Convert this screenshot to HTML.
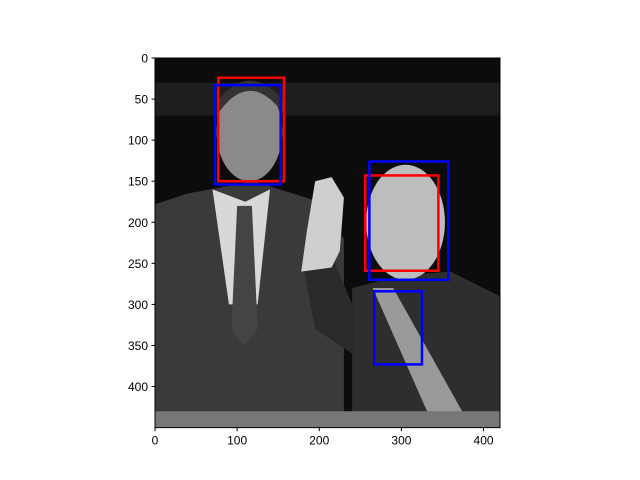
<!DOCTYPE html>
<html><head><meta charset="utf-8"><style>
body{margin:0;background:#fff;}
svg{display:block;font-family:"Liberation Sans","DejaVu Sans",sans-serif;}
</style></head><body>
<svg id="chart" width="640" height="480" xmlns="http://www.w3.org/2000/svg">
<g id="photo"></g>
<g id="boxes"></g>
<g id="axes"></g>
</svg>
<script>
const xTicks=[0,100,200,300,400];
const yTicks=[0,50,100,150,200,250,300,350,400];
const imgW=420, imgH=450;
// boxes: [x0,y0,x1,y1] in image pixels
const redBoxes=[[77,24,157,150],[256,143,345,259]];
const blueBoxes=[[73,33,153,154],[261,126,357,270],[267,284,325,373]];

const L=155,T=58,S=0.8214;
const sx=v=>L+v*S, sy=v=>T+v*S;
const NS="http://www.w3.org/2000/svg";
function mk(tag,attrs,parent){const e=document.createElementNS(NS,tag);for(const k in attrs)e.setAttribute(k,attrs[k]);parent.appendChild(e);return e;}
const photo=document.getElementById('photo');
// background
let e=mk('rect',{x:sx(0),y:sy(0),width:imgW*S,height:imgH*S,fill:'#0c0c0c'},photo);

const shapes=[
 ['rect',{x:sx(0),y:sy(30),width:imgW*S,height:40*S,fill:'#1e1e1e'}],
 // left man suit
 ['path',{d:`M${sx(0)},${sy(178)} L${sx(40)},${sy(165)} L${sx(120)},${sy(150)} L${sx(200)},${sy(175)} L${sx(230)},${sy(220)} L${sx(230)},${sy(450)} L${sx(0)},${sy(450)}Z`,fill:'#3a3a3a'}],
 ['path',{d:`M${sx(70)},${sy(160)} L${sx(110)},${sy(175)} L${sx(140)},${sy(160)} L${sx(125)},${sy(300)} L${sx(90)},${sy(300)}Z`,fill:'#d8d8d8'}],
 ['path',{d:`M${sx(100)},${sy(180)} L${sx(118)},${sy(180)} L${sx(125)},${sy(330)} L${sx(108)},${sy(350)} L${sx(93)},${sy(330)}Z`,fill:'#444'}],
 ['ellipse',{cx:sx(115),cy:sy(90),rx:40*S,ry:60*S,fill:'#8a8a8a'}],
 ['path',{d:`M${sx(75)},${sy(70)} Q${sx(115)},${sy(10)} ${sx(158)},${sy(70)} L${sx(155)},${sy(50)} Q${sx(115)},${sy(5)} ${sx(78)},${sy(50)}Z`,fill:'#333'}],
 // right man
 ['path',{d:`M${sx(240)},${sy(280)} L${sx(300)},${sy(265)} L${sx(360)},${sy(260)} L${sx(420)},${sy(290)} L${sx(420)},${sy(450)} L${sx(240)},${sy(450)}Z`,fill:'#2e2e2e'}],
 ['path',{d:`M${sx(265)},${sy(280)} L${sx(290)},${sy(280)} L${sx(385)},${sy(450)} L${sx(340)},${sy(450)}Z`,fill:'#9a9a9a'}],
 ['ellipse',{cx:sx(305),cy:sy(200),rx:48*S,ry:70*S,fill:'#bdbdbd'}],
 // raised arm and hand
 ['path',{d:`M${sx(180)},${sy(250)} L${sx(215)},${sy(240)} L${sx(240)},${sy(300)} L${sx(240)},${sy(360)} L${sx(195)},${sy(330)}Z`,fill:'#2a2a2a'}],
 ['path',{d:`M${sx(178)},${sy(260)} L${sx(185)},${sy(210)} L${sx(195)},${sy(150)} L${sx(215)},${sy(145)} L${sx(230)},${sy(170)} L${sx(225)},${sy(235)} L${sx(215)},${sy(255)}Z`,fill:'#cfcfcf'}],
 ['rect',{x:sx(0),y:sy(430),width:imgW*S,height:20*S,fill:'#777'}]
];
shapes.forEach((s,i)=>{const el=mk(s[0],s[1],photo);

});

const boxes=document.getElementById('boxes');
function drawBox(b,color,name){const r=mk('rect',{x:sx(b[0]),y:sy(b[1]),width:(b[2]-b[0])*S,height:(b[3]-b[1])*S,fill:'none',stroke:color,'stroke-width':2.5},boxes);

}
redBoxes.forEach((b,i)=>drawBox(b,'#ff0000','red-box-'+(i+1)));
blueBoxes.forEach((b,i)=>drawBox(b,'#0000ff','blue-box-'+(i+1)));

const ax=document.getElementById('axes');
const fr=mk('rect',{x:sx(0),y:sy(0),width:imgW*S,height:imgH*S,fill:'none',stroke:'#000','stroke-width':1},ax);

xTicks.forEach(v=>{const x=sx(v),y=sy(imgH);
const t=mk('line',{x1:x,y1:y,x2:x,y2:y+3.5,stroke:'#000'},ax);

const l=mk('text',{x:x,y:y+17,'text-anchor':'middle','font-size':'12'},ax);l.textContent=v;
});
yTicks.forEach(v=>{const x=sx(0),y=sy(v);
const t=mk('line',{x1:x-3.5,y1:y,x2:x,y2:y,stroke:'#000'},ax);

const l=mk('text',{x:x-7,y:y+4.5,'text-anchor':'end','font-size':'12'},ax);l.textContent=v;
});
</script>
</body></html>
